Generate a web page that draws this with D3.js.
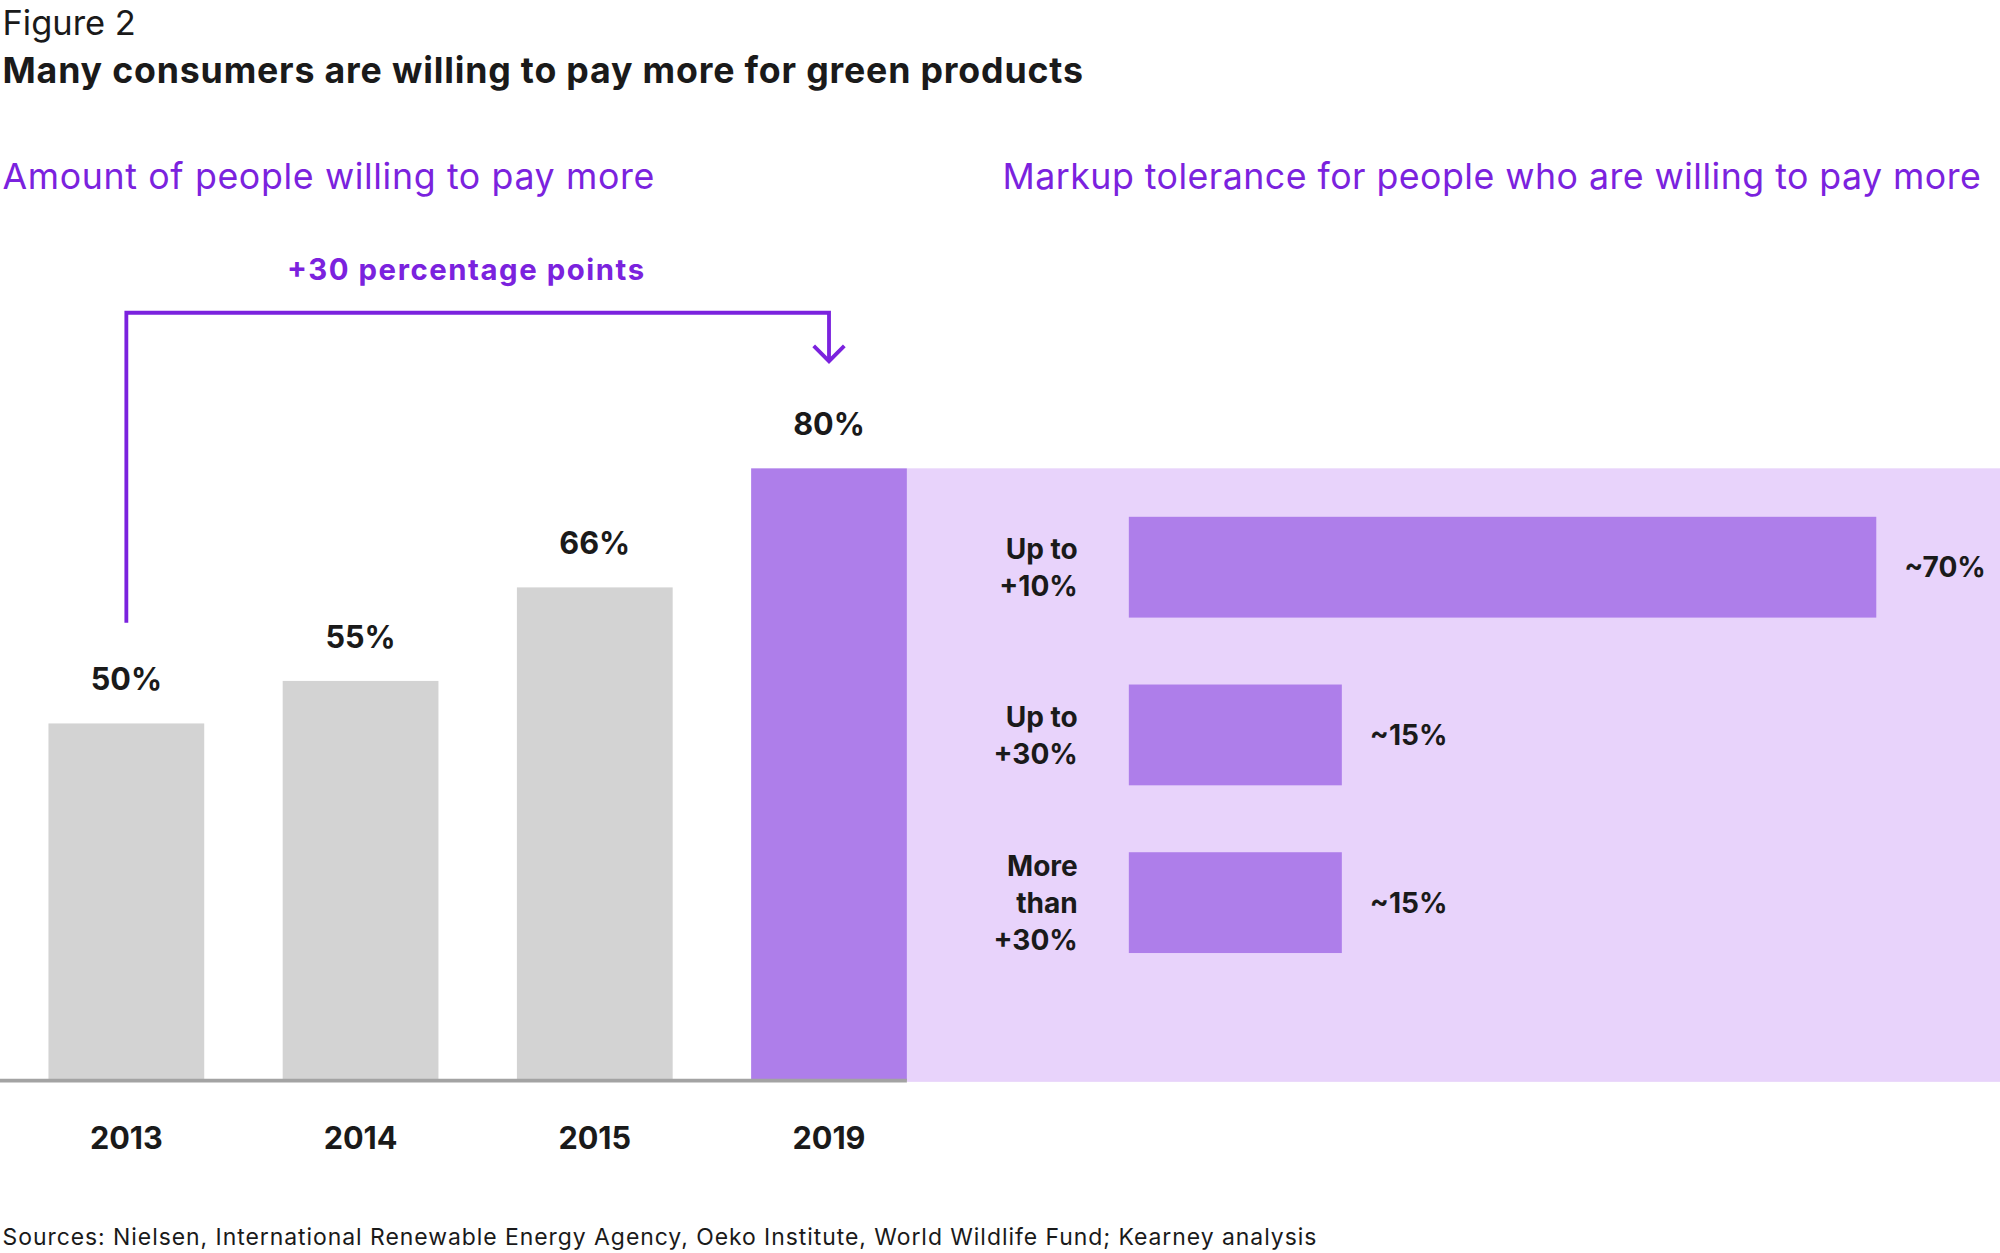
<!DOCTYPE html>
<meta charset="utf-8">
<style>
body { margin: 0; background: #fff; }
text { font-family: Inter, "Open Sans", sans-serif; fill: #1a1a1a; }
.b { font-weight: 700; }
.p { fill: #7b22de; }
</style>
<body>
<svg width="2000" height="1253" viewBox="0 0 1568 982"></svg>
<script src="https://cdn.jsdelivr.net/npm/d3@7"></script>
<script>
var years = ['2013', '2014', '2015', '2019'];
var shares = [50, 55, 66, 80];
var markupLabels = [['Up to', '+10%'], ['Up to', '+30%'], ['More', 'than', '+30%']];
var markupValues = [70, 15, 15];
var markupText = ['~70%', '~15%', '~15%'];

var svg = d3.select('svg');
var purple = '#ae7eea', panel = '#e8d3fb', grey = '#d3d3d3', line = '#7b22de';

svg.append('text').attr('x', 2).attr('y', 27).attr('font-size', 27).text('Figure 2');
svg.append('text').attr('class', 'b').attr('x', 2).attr('y', 65).attr('font-size', 28)
  .attr('textLength', 847).attr('lengthAdjust', 'spacing')
  .text('Many consumers are willing to pay more for green products');
svg.append('text').attr('class', 'p').attr('x', 2).attr('y', 148).attr('font-size', 28)
  .attr('textLength', 511).text('Amount of people willing to pay more');
svg.append('text').attr('class', 'p').attr('x', 786).attr('y', 148).attr('font-size', 28)
  .attr('textLength', 767).text('Markup tolerance for people who are willing to pay more');

// left bars
var x = d3.scaleBand().domain(years).range([38, 711]).paddingInner(0.335).paddingOuter(0);
var y = d3.scaleLinear().domain([8, 80]).range([847, 367]);

svg.append('rect').attr('x', 711).attr('y', y(80)).attr('width', 857).attr('height', 848 - y(80)).attr('fill', panel);

svg.selectAll('.bar').data(shares).enter().append('rect')
  .attr('x', (d, i) => x(years[i])).attr('width', x.bandwidth())
  .attr('y', d => y(d)).attr('height', d => 847 - y(d))
  .attr('fill', (d, i) => i === 3 ? purple : grey);

svg.selectAll('.val').data(shares).enter().append('text').attr('class', 'b')
  .attr('x', (d, i) => x(years[i]) + x.bandwidth() / 2).attr('y', d => y(d) - 26)
  .attr('text-anchor', 'middle').attr('font-size', 24).text(d => d + '%');

svg.append('line').attr('x1', 0).attr('x2', 711).attr('y1', 847).attr('y2', 847)
  .attr('stroke', '#a3a3a3').attr('stroke-width', 3);

svg.selectAll('.yr').data(years).enter().append('text').attr('class', 'b')
  .attr('x', d => x(d) + x.bandwidth() / 2).attr('y', 901)
  .attr('text-anchor', 'middle').attr('font-size', 24).text(d => d);

// bracket arrow
var x0 = x(years[0]) + x.bandwidth() / 2, x3 = x(years[3]) + x.bandwidth() / 2;
svg.append('path').attr('d', `M${x0},488V245H${x3}V283`).attr('fill', 'none')
  .attr('stroke', line).attr('stroke-width', 3);
svg.append('path').attr('d', `M${x3 - 12},271L${x3},283L${x3 + 12},271`).attr('fill', 'none')
  .attr('stroke', line).attr('stroke-width', 3);
svg.append('text').attr('class', 'b p').attr('x', 365).attr('y', 219)
  .attr('text-anchor', 'middle').attr('font-size', 23).attr('textLength', 280)
  .text('+30 percentage points');

// right bars
var xr = d3.scaleLinear().domain([-6.92, 70]).range([885, 1471]);
var yr = d3.scaleBand().domain(d3.range(3)).range([405, 747]).paddingInner(0.399);
svg.selectAll('.hb').data(markupValues).enter().append('rect')
  .attr('x', xr(-6.92)).attr('y', (d, i) => yr(i)).attr('height', yr.bandwidth())
  .attr('width', d => xr(d) - xr(-6.92)).attr('fill', purple);
svg.selectAll('.hv').data(markupValues).enter().append('text').attr('class', 'b')
  .attr('x', d => xr(d) + 22).attr('y', (d, i) => yr(i) + yr.bandwidth() / 2 + 8)
  .attr('font-size', 22).text((d, i) => markupText[i]);
markupLabels.forEach(function(lines, i) {
  var cy = yr(i) + yr.bandwidth() / 2;
  var t = svg.append('text').attr('class', 'b').attr('text-anchor', 'end').attr('font-size', 22);
  lines.forEach(function(s, j) {
    t.append('tspan').attr('x', 845).attr('y', cy + 8 + (j - (lines.length - 1) / 2) * 29).text(s);
  });
});

svg.append('text').attr('x', 2).attr('y', 976).attr('font-size', 18).attr('textLength', 1030)
  .text('Sources: Nielsen, International Renewable Energy Agency, Oeko Institute, World Wildlife Fund; Kearney analysis');
</script>
</body>
